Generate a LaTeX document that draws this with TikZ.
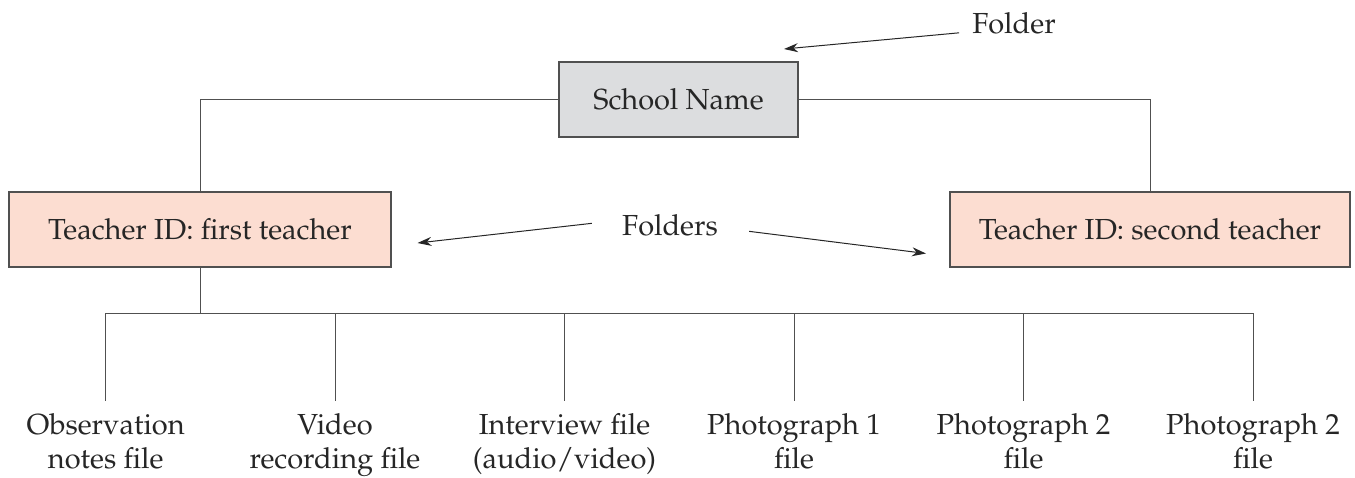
\documentclass[tikz,border=0pt]{standalone}
\usepackage[T1]{fontenc}
\usepackage{mathpazo}
\usetikzlibrary{arrows.meta}
\definecolor{boxgray}{HTML}{DCDDDF}
\definecolor{boxpink}{HTML}{FCDDD1}
\definecolor{linegray}{HTML}{505050}
\tikzset{
  every node/.style={font=\fontsize{29}{34}\selectfont, text=black!85},
  folderbox/.style={draw=linegray, line width=1.3pt, minimum height=75pt, inner sep=0pt},
  conn/.style={draw=linegray, line width=1pt},
  pointer/.style={draw=black!85, line width=1pt, -{Stealth[length=14pt,width=9pt]}},
  leaflabel/.style={align=center, anchor=base, inner sep=0pt},
}
\begin{document}
\begin{tikzpicture}[x=1pt,y=-1pt]
\useasboundingbox (0,0) rectangle (1355,477);
% folders
\node[folderbox, fill=boxgray, minimum width=239pt] (school) at (678.5,99.5) {School Name};
\node[folderbox, fill=boxpink, minimum width=382pt] (t1) at (200,229.5) {Teacher ID: first teacher};
\node[folderbox, fill=boxpink, minimum width=400pt] (t2) at (1150,229.5) {Teacher ID: second teacher};
% tree connectors
\coordinate (bar) at (200,313);
\draw[conn] (school.west) -| (t1.north);
\draw[conn] (school.east) -| (t2.north);
\draw[conn] (t1.south) -- (bar);
\coordinate (l1) at (105.7,313);
\coordinate (l6) at (1253,313);
\draw[conn] (l1) -- (l6);
% leaves
\foreach \i/\x/\txt in {1/105.7/{Observation\\notes file},
                        2/335/{Video\\recording file},
                        3/564.5/{Interview file\\(audio/video)},
                        4/794/{Photograph 1\\file},
                        5/1023.5/{Photograph 2\\file},
                        6/1253/{Photograph 2\\file}}{
  \coordinate (top\i) at (\x,313);
  \coordinate (bot\i) at (\x,401);
  \draw[conn] (top\i) -- (bot\i);
  \node[leaflabel] (leaf\i) at (\x,468) {\txt};
}
% annotations
\node[anchor=base, inner sep=0pt] (folder) at (1014,33) {Folder};
\coordinate (foldertip) at (784,49);
\draw[pointer] ([xshift=-13pt,yshift=-10pt]folder.west) -- (foldertip);
\node[anchor=base, inner sep=0pt] (folders) at (670,235) {Folders};
\coordinate (ltip) at (417.5,243);
\coordinate (rtip) at (926,253.5);
\draw[pointer] ([xshift=-30pt,yshift=1.5pt]folders.west) -- (ltip);
\draw[pointer] ([xshift=31pt,yshift=-6.5pt]folders.east) -- (rtip);
\end{tikzpicture}
\end{document}
